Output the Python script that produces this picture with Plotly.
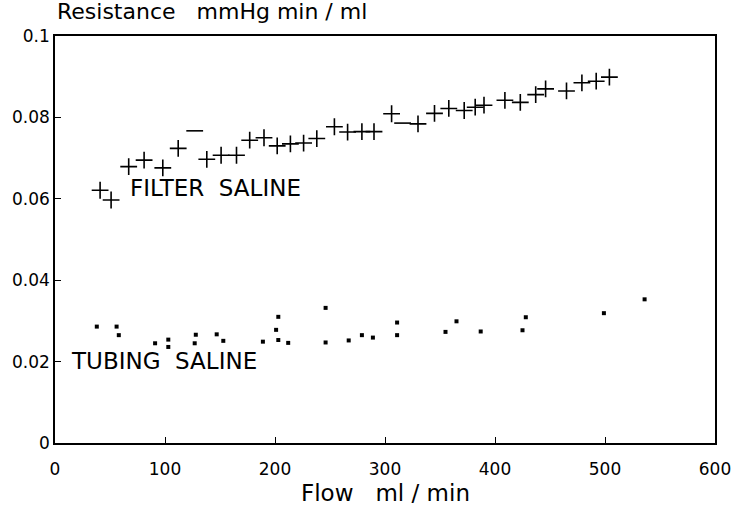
import plotly.graph_objects as go

# Filter saline (+ markers)
filter_flow = [41, 51, 67, 81, 98, 112, 127, 138, 151, 165, 177, 190, 202, 214, 226, 238,
               254, 266, 279, 290, 306, 316, 330, 345, 358, 372, 382, 390, 409, 423, 437,
               446, 465, 479, 492, 504]
filter_res = [0.0621, 0.0597, 0.0679, 0.0695, 0.0676, 0.0724, 0.0767, 0.0697, 0.0707, 0.0707,
              0.0744, 0.0750, 0.0730, 0.0735, 0.0737, 0.0748, 0.0777, 0.0764, 0.0765, 0.0765,
              0.0809, 0.0786, 0.0784, 0.0810, 0.0822, 0.0817, 0.0825, 0.0830, 0.0842, 0.0837,
              0.0856, 0.0870, 0.0865, 0.0885, 0.0889, 0.0899]
# points printed as a bare dash in the original
filter_dash_idx = [6, 21]

# Tubing saline (dots)
tubing_flow = [38, 56, 58, 91, 103, 103, 128, 127, 147, 153, 189, 203, 201, 203, 212, 246,
               246, 267, 279, 289, 311, 311, 355, 365, 387, 428, 425, 499, 536]
tubing_res = [0.0286, 0.0286, 0.0265, 0.0245, 0.0254, 0.0236, 0.0266, 0.0245, 0.0267, 0.0251,
              0.0249, 0.0310, 0.0278, 0.0253, 0.0246, 0.0332, 0.0247, 0.0252, 0.0265, 0.0259,
              0.0296, 0.0265, 0.0273, 0.0299, 0.0274, 0.0309, 0.0277, 0.0319, 0.0353]

x_ticks = [0, 100, 200, 300, 400, 500, 600]
y_ticks = [0, 0.02, 0.04, 0.06, 0.08, 0.1]
y_tick_labels = ["0", "0.02", "0.04", "0.06", "0.08", "0.1"]

FONT = "DejaVu Sans"

symbols = ["line-ew-open" if i in filter_dash_idx else "cross-thin-open"
           for i in range(len(filter_flow))]

fig = go.Figure()
fig.add_trace(go.Scatter(
    x=filter_flow, y=filter_res, mode="markers",
    marker=dict(symbol=symbols, size=12, color="black",
                line=dict(color="black", width=1.6)),
    showlegend=False))
fig.add_trace(go.Scatter(
    x=tubing_flow, y=tubing_res, mode="markers",
    marker=dict(symbol="square", size=4, color="black", line=dict(width=0)),
    showlegend=False))

fig.add_annotation(x=66, y=0.0627, xref="x", yref="y", text="FILTER  SALINE",
                   showarrow=False, xanchor="left", yanchor="middle",
                   font=dict(family=FONT, size=23, color="black"))
fig.add_annotation(x=13, y=0.0201, xref="x", yref="y", text="TUBING  SALINE",
                   showarrow=False, xanchor="left", yanchor="middle",
                   font=dict(family=FONT, size=23, color="black"))
fig.add_annotation(x=0, y=1.06, xref="paper", yref="paper",
                   text="Resistance   mmHg min / ml", showarrow=False,
                   xanchor="left", yanchor="middle",
                   font=dict(family=FONT, size=22, color="black"))
fig.add_annotation(x=0.5, y=-0.123, xref="paper", yref="paper",
                   text="Flow   ml / min", showarrow=False,
                   xanchor="center", yanchor="middle",
                   font=dict(family=FONT, size=23, color="black"))

fig.update_layout(
    width=743, height=507,
    margin=dict(l=55, r=25, t=36, b=64),
    paper_bgcolor="white", plot_bgcolor="white",
    font=dict(family=FONT, color="black"),
)
fig.update_xaxes(range=[0, 600], tickvals=x_ticks, ticktext=[str(v) for v in x_ticks],
                 showgrid=False, zeroline=False, showline=True, linecolor="black",
                 linewidth=1.5, mirror=True, ticks="inside", ticklen=6, tickcolor="black",
                 ticklabelstandoff=10,
                 tickfont=dict(family=FONT, size=17, color="black"))
fig.update_yaxes(range=[0, 0.1], tickvals=y_ticks, ticktext=y_tick_labels,
                 showgrid=False, zeroline=False, showline=True, linecolor="black",
                 linewidth=1.5, mirror=True, ticks="inside", ticklen=6, tickcolor="black",
                 tickfont=dict(family=FONT, size=17, color="black"))

fig.write_html("out.html")
